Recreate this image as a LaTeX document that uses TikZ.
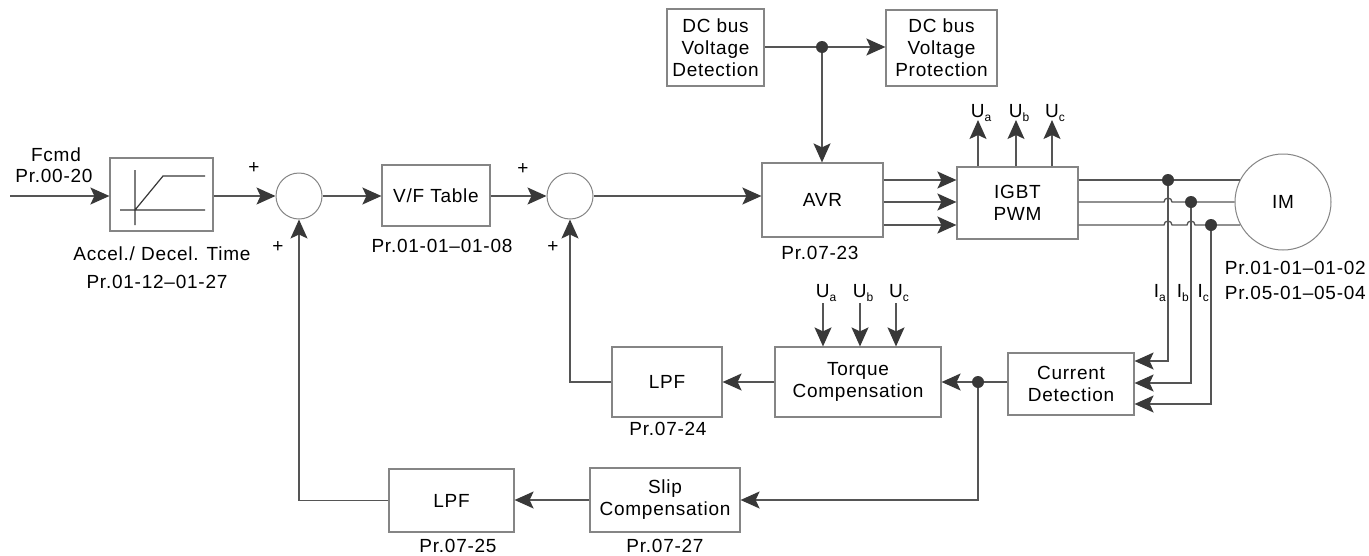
\documentclass[tikz,border=0pt]{standalone}
\usepackage{fontspec}
\setmainfont{Liberation Sans}[LetterSpace=4]
\usetikzlibrary{arrows.meta,calc}
\definecolor{lnc}{HTML}{555555}
\definecolor{bxc}{HTML}{858585}
\definecolor{tipc}{HTML}{383838}
\newcommand{\mysub}[1]{\raisebox{-0.4ex}{\fontsize{12}{12}\selectfont #1}}
\begin{document}
\begin{tikzpicture}[x=1pt,y=-1pt,
  ln/.style={draw=lnc,line width=1.3pt},
  arr/.style={ln,-{Stealth[length=19pt,width=17pt,inset=4pt,fill=tipc,color=tipc]}},
  box/.style={draw=bxc,line width=1.2pt,fill=white,inner sep=0pt,align=center,font=\fontsize{19}{22}\selectfont,text=black},
  sumc/.style={circle,draw=bxc,line width=1pt,minimum size=46pt,inner sep=0pt,fill=white},
  lbl/.style={inner sep=0pt,font=\fontsize{19}{22}\selectfont,align=center},
  pls/.style={inner sep=0pt,font=\fontsize{19}{19}\selectfont},
  dotn/.style={circle,fill=tipc,minimum size=12pt,inner sep=0pt}]
\fill[white] (0,0) rectangle (1369,555);
\useasboundingbox (0,0) rectangle (1369,555);

% blocks
\node[box,minimum width=103pt,minimum height=73pt] (ramp) at (161.5,194.5) {};
\node[sumc] (sum1) at (299,196) {};
\node[box,minimum width=108pt,minimum height=61pt] (vf) at (436,195.5) {V/F Table};
\node[sumc] (sum2) at (570,196) {};
\node[box,minimum width=121pt,minimum height=74pt] (avr) at (822.5,200) {AVR};
\node[box,minimum width=121pt,minimum height=72pt] (igbt) at (1017.5,203) {IGBT\\PWM};
\node[box,minimum width=97pt,minimum height=77pt] (dcdet) at (715.5,47.5) {DC bus\\Voltage\\Detection};
\node[box,minimum width=111pt,minimum height=76pt] (dcprot) at (941.5,48) {DC bus\\Voltage\\Protection};
\node[circle,draw=bxc,line width=1pt,minimum size=96pt,inner sep=0pt,font=\fontsize{19}{22}\selectfont] (im) at (1283,202) {IM};
\node[box,minimum width=166pt,minimum height=70pt] (torque) at (858,382) {Torque\\Compensation};
\node[box,minimum width=110pt,minimum height=70pt] (lpfa) at (667,382) {LPF};
\node[box,minimum width=126pt,minimum height=62pt] (curdet) at (1071,384) {Current\\Detection};
\node[box,minimum width=150pt,minimum height=64pt] (slip) at (665,500) {Slip\\Compensation};
\node[box,minimum width=125pt,minimum height=63pt] (lpfb) at (451.5,500.5) {LPF};

% ramp graphic
\draw[draw=tipc,line width=1.2pt] (135,170) -- (135,225) (120,210) -- (205,210) (135,210) -- (163,176) -- (205,176);

% labels
\node[lbl] (fcmd) at (56,155) {Fcmd};
\node[lbl] (pr0020) at (54,176) {Pr.00-20};
\node[lbl] (accel) at (162,254) {Accel./ Decel. Time};
\node[lbl] (pr0112) at (157,282) {Pr.01-12–01-27};
\node[lbl] (pr0101) at (442,246) {Pr.01-01–01-08};
\node[lbl] (pr0723) at (820,253) {Pr.07-23};
\node[lbl] (pr0724) at (668,429) {Pr.07-24};
\node[lbl] (pr0725) at (458,546) {Pr.07-25};
\node[lbl] (pr0727) at (665,546) {Pr.07-27};
\node[lbl,anchor=east] (prim1) at (1366,268) {Pr.01-01–01-02};
\node[lbl,anchor=east] (prim2) at (1366,293) {Pr.05-01–05-04};
\node[pls] (p1) at (254,168) {+};
\node[pls] (p2) at (278,247) {+};
\node[pls] (p3) at (523,169) {+};
\node[pls] (p4) at (553,247) {+};

% level coordinates
\coordinate (ya) at (0,180);
\coordinate (yb) at (0,202);
\coordinate (yc) at (0,225);
\coordinate (fin) at (10,196);

% forward path
\draw[arr] (fin) -- (fin -| ramp.west);
\draw[arr] (ramp.east |- fin) -- (sum1.west);
\draw[arr] (sum1.east) -- (vf.west |- sum1.east);
\draw[arr] (vf.east |- sum2.west) -- (sum2.west);
\draw[arr] (sum2.east) -- (sum2.east -| avr.west);

% DC bus
\coordinate (dj) at (822,47);
\draw[ln] (dcdet.east |- dj) -- (dj);
\draw[arr] (dj) -- (dcprot.west |- dj);
\draw[arr] (dj) -- (dj |- avr.north);

% AVR to IGBT
\draw[arr] (avr.east |- ya) -- (igbt.west |- ya);
\draw[arr] (avr.east |- yb) -- (igbt.west |- yb);
\draw[arr] (avr.east |- yc) -- (igbt.west |- yc);

% U outputs from IGBT
\foreach \n/\xx/\s in {a/978/a,b/1016/b,c/1052/c}{
  \coordinate (u\n) at (\xx,120);
  \draw[arr] (igbt.north -| u\n) -- (u\n);
  \node[lbl,anchor=south,xshift=3pt] (lu\n) at ($(u\n)+(0,2)$) {U\mysub{\s}};
}

% three phase lines to motor with hops
\coordinate (jA) at (1168,180);
\coordinate (jB) at (1191,202);
\coordinate (jC) at (1211,225);
\draw[ln] (igbt.east |- ya) -- (im.152.7 |- ya);
\draw[ln] (igbt.east |- yb) -- (1164,202) arc[start angle=180,end angle=360,radius=4] -- (im.west |- yb);
\draw[ln] (igbt.east |- yc) -- (1164,225) arc[start angle=180,end angle=360,radius=4]
   -- (1187,225) arc[start angle=180,end angle=360,radius=4] -- (im.208.6 |- yc);

% current sensing
\coordinate (ia) at (curdet.east |- 0,361);
\coordinate (ib) at (curdet.east |- 0,383);
\coordinate (ic) at (curdet.east |- 0,404);
\draw[arr] (jA) |- (ia);
\draw[arr] (jB) |- (ib);
\draw[arr] (jC) |- (ic);
\node[dotn] (dA) at (jA) {};
\node[dotn] (dB) at (jB) {};
\node[dotn] (dC) at (jC) {};
\node[lbl,anchor=east] (lia) at (1166,293) {I\mysub{a}};
\node[lbl,anchor=east] (lib) at (1189,293) {I\mysub{b}};
\node[lbl,anchor=east] (lic) at (1209,293) {I\mysub{c}};

% U inputs to torque compensation
\foreach \n/\xx in {a/823,b/860,c/896}{
  \coordinate (v\n) at (\xx,303);
  \draw[arr] (v\n) -- (v\n |- torque.north);
  \node[lbl,anchor=south,xshift=3pt] (lv\n) at ($(v\n)+(0,-1)$) {U\mysub{\n}};
}

% feedback paths
\coordinate (j2) at (978,382);
\draw[ln] (curdet.west |- j2) -- (j2);
\draw[arr] (j2) -- (torque.east |- j2);
\draw[arr] (torque.west) -- (lpfa.east);
\draw[arr] (lpfa.west) -| (sum2.south);
\draw[arr] (j2) |- (slip.east);
\draw[arr] (slip.west) -- (lpfb.east |- slip.west);
\draw[arr] (lpfb.west) -| (sum1.south);
\node[dotn] (d2) at (j2) {};
\node[dotn] (dj1) at (dj) {};
\end{tikzpicture}
\end{document}
